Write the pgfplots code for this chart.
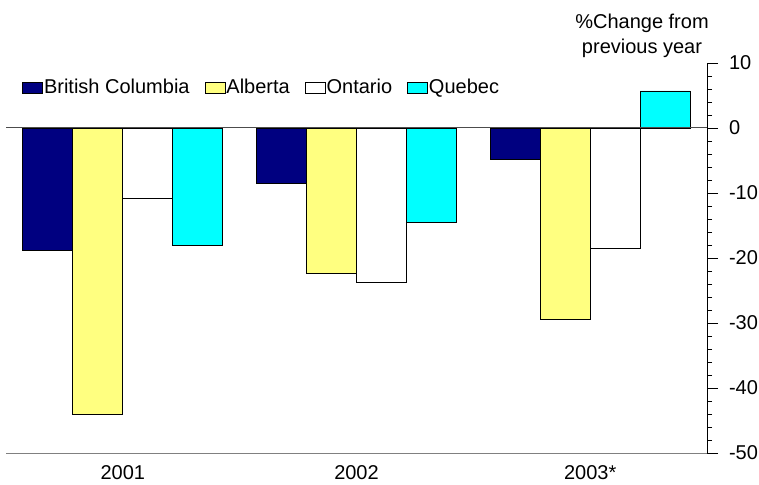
\documentclass[border=0pt]{standalone}
\usepackage{pgfplots}
\pgfplotsset{compat=1.18}
\usepackage{fontspec}
\setmainfont{Liberation Sans}
\definecolor{bcnavy}{RGB}{0,0,128}
\definecolor{abyellow}{RGB}{255,255,128}
\definecolor{qccyan}{RGB}{0,255,255}
\begin{document}
\fontsize{10}{12.5}\selectfont
\begin{tikzpicture}
\begin{axis}[
  scale only axis,
  width=350.5pt, height=195pt,
  ybar=0pt, bar width=0.214,
  xmin=-0.5, xmax=2.5,
  ymin=-50, ymax=10,
  xtick={0,1,2}, xticklabels={2001,2002,2003*},
  ytick={-50,-40,-30,-20,-10,0,10},
  minor y tick num=4,
  axis y line=right, axis x line=bottom,
  axis line style={-},
  x axis line style={gray},
  x tick style={draw=none},
  y tick style={black, line width=0.4pt},
  tick align=outside,
  major tick length=5.5pt, minor tick length=2.5pt,
  every tick label/.append style={font=\fontsize{10}{12}\selectfont},
  /pgf/number format/assume math mode=true,
  yticklabel style={xshift=2pt},
  xticklabel style={yshift=3pt},
  legend style={draw=none, fill=none, legend columns=-1,
    at={(rel axis cs:0.014,0.936)}, anchor=west,
    font=\fontsize{10}{12}\selectfont,
    nodes={inner xsep=0.5pt, inner ysep=2pt},
    /tikz/every even column/.append style={column sep=7pt}},
  legend image code/.code={\draw[#1, line width=0.4pt] (0pt,-2.75pt) rectangle (10pt,2.75pt);},
  legend cell align=left,
  every axis plot/.append style={draw=black, line width=0.4pt},
  clip=false,
]
\addplot[fill=bcnavy] coordinates {(0,-18.9) (1,-8.5) (2,-4.9)};
\addplot[fill=abyellow] coordinates {(0,-44.0) (1,-22.3) (2,-29.4)};
\addplot[fill=white] coordinates {(0,-10.9) (1,-23.8) (2,-18.5)};
\addplot[fill=qccyan] coordinates {(0,-18.0) (1,-14.5) (2,5.7)};
\legend{British Columbia,Alberta,Ontario,Quebec}
\draw[black!70, line width=0.5pt] (axis cs:-0.5,0) -- (axis cs:2.5,0);
\node[align=center, font=\fontsize{10}{12.5}\selectfont] at ([xshift=-32.5pt,yshift=13.75pt]rel axis cs:1,1) {\%Change from\\previous year};
\end{axis}
\pgfresetboundingbox
\path (-3pt,-16pt) rectangle (376.5pt,226.5pt);
\end{tikzpicture}
\end{document}
